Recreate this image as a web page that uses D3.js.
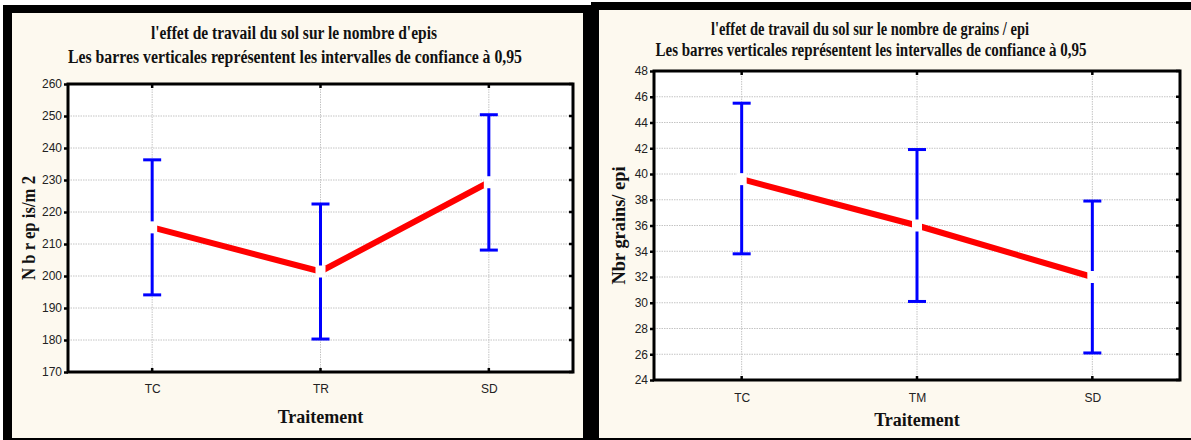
<!DOCTYPE html>
<html>
<head>
<meta charset="utf-8">
<script src="https://cdn.jsdelivr.net/npm/d3@7/dist/d3.min.js"></script>
<style>
  html, body { margin: 0; padding: 0; background: #ffffff; }
  svg { display: block; }
</style>
</head>
<body>
<svg id="chart" width="1191" height="440"></svg>
<script>
// Nombre d'épis par m² selon le travail du sol
const epiCategories = ["TC", "TR", "SD"];
const epiMeans = [215.2, 201.4, 229.3];
const epiLower = [194.1, 180.3, 208.1];
const epiUpper = [236.3, 222.5, 250.4];
const epiTicks = [170, 180, 190, 200, 210, 220, 230, 240, 250, 260];

// Nombre de grains par épi selon le travail du sol
const grainCategories = ["TC", "TM", "SD"];
const grainMeans = [39.6, 36.0, 32.0];
const grainLower = [33.8, 30.1, 26.1];
const grainUpper = [45.5, 41.9, 37.9];
const grainTicks = [24, 26, 28, 30, 32, 34, 36, 38, 40, 42, 44, 46, 48];

const svg = d3.select("#chart");
const serif = "'Liberation Serif', 'Times New Roman', serif";
const sans = "'Liberation Sans', Arial, sans-serif";
const cream = "#fdf9ef";

function drawPanel(cfg) {
  // outer black frame and cream card
  svg.append("rect").attr("x", cfg.frame[0]).attr("y", cfg.frame[1])
    .attr("width", cfg.frame[2]).attr("height", cfg.frame[3]).attr("fill", "#000");
  svg.append("rect").attr("x", cfg.card[0]).attr("y", cfg.card[1])
    .attr("width", cfg.card[2]).attr("height", cfg.card[3]).attr("fill", cream);

  const g = svg.append("g");
  const [L, T, R, B] = cfg.plot;

  const x = d3.scalePoint().domain(cfg.categories).range([L, R]).padding(0.5);
  const y = d3.scaleLinear().domain(cfg.domain).range([B, T]);

  // plot background
  g.append("rect").attr("x", L).attr("y", T).attr("width", R - L).attr("height", B - T)
    .attr("fill", "#ffffff");

  // grid
  g.append("g").selectAll("line").data(cfg.ticks.slice(1, -1)).join("line")
    .attr("x1", L).attr("x2", R).attr("y1", d => y(d)).attr("y2", d => y(d))
    .attr("stroke", "#c4c4c4").attr("stroke-width", 1).attr("stroke-dasharray", "1.5,1");
  g.append("g").selectAll("line").data(cfg.categories).join("line")
    .attr("x1", d => x(d)).attr("x2", d => x(d)).attr("y1", T).attr("y2", B)
    .attr("stroke", "#c4c4c4").attr("stroke-width", 1).attr("stroke-dasharray", "1.5,1");

  // y axis labels and ticks
  const yAxis = d3.axisLeft(y).tickValues(cfg.ticks).tickSize(4).tickPadding(2)
    .tickFormat(d3.format("d"));
  const ya = g.append("g").attr("transform", `translate(${L},0)`).call(yAxis);
  ya.select(".domain").remove();
  ya.selectAll(".tick line").attr("stroke", "#000").attr("stroke-width", 2.5);
  ya.selectAll(".tick text").attr("fill", "#222").style("font-family", sans)
    .style("font-size", "12px");

  // inner ticks on right border
  g.append("g").selectAll("line").data(cfg.ticks).join("line")
    .attr("x1", R - 4).attr("x2", R).attr("y1", d => y(d)).attr("y2", d => y(d))
    .attr("stroke", "#000").attr("stroke-width", 2.5);

  // x axis labels and ticks
  const xAxis = d3.axisBottom(x).tickSize(0).tickPadding(cfg.xPad);
  const xa = g.append("g").attr("transform", `translate(0,${B})`).call(xAxis);
  xa.select(".domain").remove();
  xa.selectAll(".tick text").attr("fill", "#222").style("font-family", sans)
    .style("font-size", "12px");
  g.append("g").selectAll("line").data(cfg.categories).join("line")
    .attr("x1", d => x(d)).attr("x2", d => x(d)).attr("y1", B - 4).attr("y2", B)
    .attr("stroke", "#000").attr("stroke-width", 2.5);
  g.append("g").selectAll("line").data(cfg.categories).join("line")
    .attr("x1", d => x(d)).attr("x2", d => x(d)).attr("y1", T).attr("y2", T + 4)
    .attr("stroke", "#000").attr("stroke-width", 2.5);

  // frame
  g.append("rect").attr("x", L).attr("y", T).attr("width", R - L).attr("height", B - T)
    .attr("fill", "none").attr("stroke", "#000").attr("stroke-width", 3);

  const rows = cfg.categories.map((c, i) => ({
    c, m: cfg.means[i], lo: cfg.lower[i], hi: cfg.upper[i]
  }));

  // confidence intervals
  const eb = g.append("g").attr("stroke", "#0000ff").attr("stroke-width", 3);
  eb.selectAll(".v").data(rows).join("line")
    .attr("x1", d => x(d.c)).attr("x2", d => x(d.c))
    .attr("y1", d => y(d.lo)).attr("y2", d => y(d.hi));
  eb.selectAll(".top").data(rows).join("line")
    .attr("x1", d => x(d.c) - 9).attr("x2", d => x(d.c) + 9)
    .attr("y1", d => y(d.hi)).attr("y2", d => y(d.hi));
  eb.selectAll(".bot").data(rows).join("line")
    .attr("x1", d => x(d.c) - 9).attr("x2", d => x(d.c) + 9)
    .attr("y1", d => y(d.lo)).attr("y2", d => y(d.lo));

  // means line
  const line = d3.line().x(d => x(d.c)).y(d => y(d.m));
  g.append("path").datum(rows).attr("d", line)
    .attr("fill", "none").attr("stroke", "#ff0000").attr("stroke-width", 6);

  // mean markers (white)
  g.append("g").selectAll("rect").data(rows).join("rect")
    .attr("x", d => x(d.c) - 5).attr("y", d => y(d.m) - 6)
    .attr("width", 10).attr("height", 12).attr("fill", "#ffffff");

  // titles
  cfg.titles.forEach(t => {
    svg.append("text").attr("x", t.x).attr("y", t.y).attr("text-anchor", "middle")
      .attr("textLength", t.w).attr("lengthAdjust", "spacingAndGlyphs")
      .style("font-family", serif).style("font-weight", "bold").style("font-size", "18.5px")
      .attr("fill", "#111").text(t.text);
  });

  svg.append("text").attr("x", (L + R) / 2).attr("y", cfg.xTitleY).attr("text-anchor", "middle")
    .style("font-family", serif).style("font-weight", "bold").style("font-size", "18px")
    .attr("fill", "#111").text("Traitement");

  svg.append("text")
    .attr("transform", `translate(${cfg.yTitleX},${(T + B) / 2}) rotate(-90)`)
    .attr("text-anchor", "middle")
    .attr("textLength", cfg.yTitleW).attr("lengthAdjust", "spacingAndGlyphs")
    .style("font-family", serif).style("font-weight", "bold").style("font-size", "19px")
    .attr("fill", "#111").text(cfg.yTitle);
}

drawPanel({
  frame: [3, 5, 596, 435],
  card: [12, 13, 571, 425],
  plot: [68, 84, 573, 372],
  categories: epiCategories,
  means: epiMeans, lower: epiLower, upper: epiUpper,
  domain: [170, 260], ticks: epiTicks,
  xPad: 12, xTitleY: 423,
  titles: [
    { text: "l'effet de travail du sol sur le nombre d'epis", x: 294, y: 39, w: 286 },
    { text: "Les barres verticales représentent les intervalles de confiance à 0,95", x: 295, y: 63, w: 454 }
  ],
  yTitle: "N b r  ep is/m 2", yTitleX: 35, yTitleW: 104
});

drawPanel({
  frame: [591, 2, 600, 438],
  card: [599, 10, 592, 428],
  plot: [654, 71, 1180, 380],
  categories: grainCategories,
  means: grainMeans, lower: grainLower, upper: grainUpper,
  domain: [24, 48], ticks: grainTicks,
  xPad: 13, xTitleY: 426,
  titles: [
    { text: "l'effet de travail du sol sur le nombre de grains / epi", x: 870, y: 35, w: 318 },
    { text: "Les barres verticales représentent les intervalles de confiance à 0,95", x: 871, y: 56, w: 431 }
  ],
  yTitle: "Nbr grains/ epi", yTitleX: 625, yTitleW: 118
});
</script>
</body>
</html>
